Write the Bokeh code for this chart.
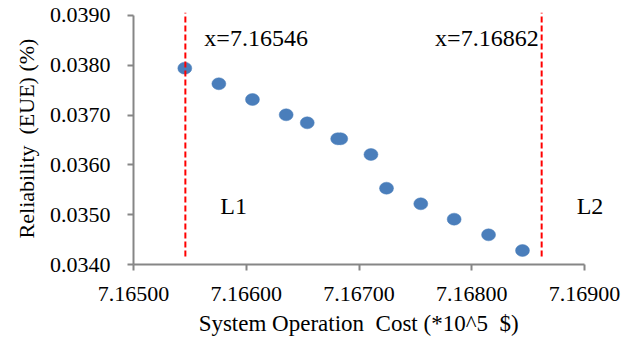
from bokeh.plotting import figure
from bokeh.models import ColumnDataSource, FixedTicker, NumeralTickFormatter, Range1d, Label
from bokeh.embed import file_html
from bokeh.resources import INLINE

# Data
cost = [7.165455, 7.165757, 7.166055, 7.166354, 7.166541, 7.166811, 7.166838,
        7.167106, 7.167244, 7.167548, 7.167844, 7.168149, 7.168450]
eue = [0.037942, 0.037629, 0.037313, 0.037006, 0.036845, 0.036524, 0.036524,
       0.036209, 0.035532, 0.035219, 0.034910, 0.034596, 0.034281]

x_ticks = [7.165, 7.166, 7.167, 7.168, 7.169]
y_ticks = [0.034, 0.035, 0.036, 0.037, 0.038, 0.039]

limit_x = [7.16546, 7.16862]
limit_names = ["L1", "L2"]
limit_labels = ["x=7.16546", "x=7.16862"]
line_bottom = 0.03416
line_top = 0.03906
label_y = 0.03854
name_y = 0.03518

FONT = "Liberation Serif"
NB = "\u00a0"

# frame extends a bit beyond the axes so that L2 and the dashed lines are not clipped
p = figure(width=630, height=340, output_backend="svg", toolbar_location=None,
           x_range=Range1d(7.165, 7.1692483), y_range=Range1d(0.034, 0.03906),
           min_border_left=133, min_border_right=18, min_border_top=12, min_border_bottom=76)
p.outline_line_color = None
p.grid.visible = False
p.background_fill_color = "white"
p.border_fill_color = "white"

src = ColumnDataSource(dict(x=cost, y=eue))
p.ellipse(x="x", y="y", width=14, height=12, width_units="screen", height_units="screen",
          source=src, fill_color="#4a7ebb", line_color="#4a7ebb", line_width=0.5)

# dashed limit lines
p.segment(x0=limit_x, y0=[line_bottom] * 2, x1=limit_x, y1=[line_top] * 2,
          line_color="#ff0000", line_width=2, line_dash="6 3")

# annotations
def add_label(x, y, text, x_offset, align):
    p.add_layout(Label(x=x, y=y, text=text, x_offset=x_offset, text_align=align,
                       text_baseline="alphabetic", text_font=FONT, text_font_size="24px",
                       text_color="black"))

add_label(limit_x[0], label_y, limit_labels[0], 19, "left")
add_label(limit_x[1], label_y, limit_labels[1], -3, "right")
for lx, nm in zip(limit_x, limit_names):
    add_label(lx, name_y, nm, 35, "left")

for ax in (p.xaxis[0], p.yaxis[0]):
    ax.axis_line_color = "#868686"
    ax.axis_line_width = 2
    ax.major_tick_line_color = "#868686"
    ax.major_tick_line_width = 2
    ax.major_tick_out = 6
    ax.major_tick_in = 0
    ax.minor_tick_line_color = None
    ax.major_label_text_font = FONT
    ax.major_label_text_font_size = "22px"
    ax.major_label_text_color = "black"
    ax.axis_label_text_font = FONT
    ax.axis_label_text_font_style = "normal"
    ax.axis_label_text_color = "black"

p.xaxis[0].bounds = (x_ticks[0], x_ticks[-1])
p.yaxis[0].bounds = (y_ticks[0], y_ticks[-1])
p.xaxis[0].ticker = FixedTicker(ticks=x_ticks)
p.yaxis[0].ticker = FixedTicker(ticks=y_ticks)
p.xaxis[0].formatter = NumeralTickFormatter(format="0.00000")
p.yaxis[0].formatter = NumeralTickFormatter(format="0.0000")
# trailing no-break spaces re-centre the label under the axis line (frame is wider)
p.xaxis[0].axis_label = "System Operation" + NB + " Cost (*10^5" + NB + " $)" + NB * 5
p.yaxis[0].axis_label = "Reliability" + NB + " (EUE) (%)"
p.xaxis[0].axis_label_text_font_size = "23px"
p.yaxis[0].axis_label_text_font_size = "22px"
p.xaxis[0].major_label_standoff = 16
p.yaxis[0].major_label_standoff = 17
p.xaxis[0].axis_label_standoff = 7
p.yaxis[0].axis_label_standoff = 8

open("out.html", "w").write(file_html(p, INLINE))
